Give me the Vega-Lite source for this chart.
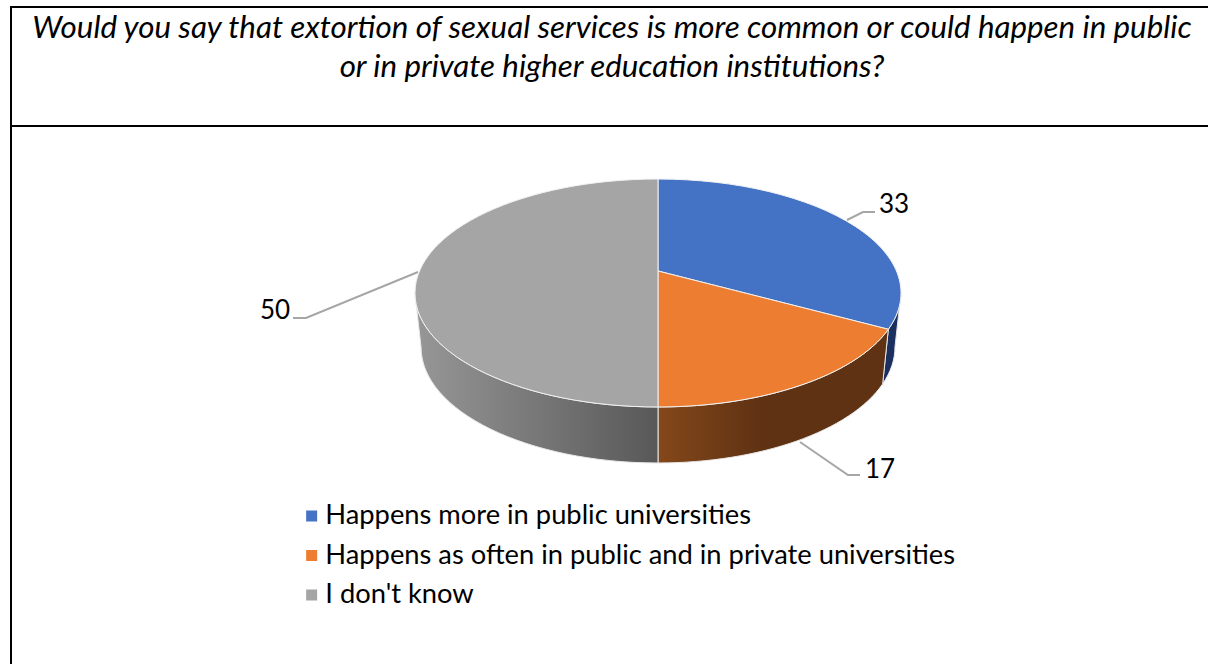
{
  "$schema": "https://vega.github.io/schema/vega-lite/v6.json",
  "width": 1208,
  "height": 664,
  "padding": 0,
  "autosize": {"type": "none"},
  "background": "white",
  "config": {"view": {"stroke": null}, "font": "Lato"},
  "title": {
    "text": [
      "Would you say that extortion of sexual services is more common or could happen in public",
      "or in private higher education institutions?"
    ],
    "font": "Lato",
    "fontStyle": "italic",
    "fontWeight": "normal",
    "fontSize": 31.3,
    "lineHeight": 39,
    "color": "#000000",
    "anchor": "middle",
    "frame": "group",
    "baseline": "alphabetic",
    "offset": -37,
    "dx": 8,
    "dy": 71
  },
  "data": {
    "values": [
      {"category": "Happens more in public universities", "value": 33},
      {"category": "Happens as often in public and in private universities", "value": 17},
      {"category": "I don't know", "value": 50}
    ]
  },
  "transform": [
    {"window": [{"op": "sum", "field": "value", "as": "cum"}], "frame": [null, 0]},
    {"joinaggregate": [{"op": "sum", "field": "value", "as": "total"}]},
    {"calculate": "2*PI*(datum.cum-datum.value)/datum.total", "as": "a0"},
    {"calculate": "2*PI*datum.cum/datum.total", "as": "a1"},
    {"calculate": "clamp(datum.a0,1.765,4.5182)", "as": "w0"},
    {"calculate": "clamp(datum.a1,1.765,4.5182)", "as": "w1"},
    {"calculate": "round(1e4*0.9811*sin(datum.a0)/(1+0.193*cos(datum.a0)))/1e4", "as": "tx0"},
    {"calculate": "round(-1e4*0.4516*cos(datum.a0)/(1+0.193*cos(datum.a0)))/1e4", "as": "ty0"},
    {"calculate": "round(1e4*0.9811*sin(datum.a1)/(1+0.193*cos(datum.a1)))/1e4", "as": "tx1"},
    {"calculate": "round(-1e4*0.4516*cos(datum.a1)/(1+0.193*cos(datum.a1)))/1e4", "as": "ty1"},
    {"calculate": "round(1e4*0.9811*sin(datum.w0)/(1+0.193*cos(datum.w0)))/1e4", "as": "wx0"},
    {"calculate": "round(-1e4*0.4516*cos(datum.w0)/(1+0.193*cos(datum.w0)))/1e4", "as": "wy0"},
    {"calculate": "round(1e4*0.9811*sin(datum.w1)/(1+0.193*cos(datum.w1)))/1e4", "as": "wx1"},
    {"calculate": "round(-1e4*0.4516*cos(datum.w1)/(1+0.193*cos(datum.w1)))/1e4", "as": "wy1"},
    {"calculate": "round(1e4*0.9753*datum.wx0)/1e4", "as": "bx0"},
    {"calculate": "round(1e4*0.9753*datum.wx1)/1e4", "as": "bx1"},
    {"calculate": "round(1e4*(0.3128+1.0175*(datum.wy0-0.0905)))/1e4", "as": "by0"},
    {"calculate": "round(1e4*(0.3128+1.0175*(datum.wy1-0.0905)))/1e4", "as": "by1"},
    {"calculate": "'M0,0L'+datum.tx0+','+datum.ty0+'A1,0.469,0,'+(datum.value>50?1:0)+',1,'+datum.tx1+','+datum.ty1+'Z'", "as": "topPath"},
    {"calculate": "'M'+datum.wx0+','+datum.wy0+'A1,0.469,0,0,1,'+datum.wx1+','+datum.wy1+'L'+datum.bx1+','+datum.by1+'A0.9753,0.4774,0,0,0,'+datum.bx0+','+datum.by0+'Z'", "as": "wallPath"}
  ],
  "encoding": {
    "x": {"datum": 658, "type": "quantitative", "scale": {"domain": [0, 1208]}, "axis": null},
    "y": {"datum": 271, "type": "quantitative", "scale": {"domain": [664, 0]}, "axis": null}
  },
  "layer": [
    {
      "transform": [{"filter": "datum.value === 33"}],
      "layer": [
        {
          "mark": {"type": "point", "shape": "M0.7778,-0.2099L0.8436,-0.2428L0.893,-0.2428", "size": 236196, "filled": false, "stroke": "#a6a6a6", "strokeWidth": 2, "opacity": 1}
        },
        {
          "mark": {"type": "text", "align": "left", "baseline": "alphabetic", "fontSize": 26, "color": "#000000"},
          "encoding": {"x": {"datum": 879, "type": "quantitative"}, "y": {"datum": 213, "type": "quantitative"}, "text": {"field": "value", "type": "quantitative"}}
        }
      ]
    },
    {
      "transform": [{"filter": "datum.value === 17"}],
      "layer": [
        {
          "mark": {"type": "point", "shape": "M0.5844,0.7037L0.7819,0.8395L0.8313,0.8395", "size": 236196, "filled": false, "stroke": "#a6a6a6", "strokeWidth": 2, "opacity": 1}
        },
        {
          "mark": {"type": "text", "align": "left", "baseline": "alphabetic", "fontSize": 26, "color": "#000000"},
          "encoding": {"x": {"datum": 865, "type": "quantitative"}, "y": {"datum": 478, "type": "quantitative"}, "text": {"field": "value", "type": "quantitative"}}
        }
      ]
    },
    {
      "transform": [{"filter": "datum.value === 50"}],
      "layer": [
        {
          "mark": {"type": "point", "shape": "M-0.9877,0.0041L-1.4486,0.1934L-1.5021,0.1934", "size": 236196, "filled": false, "stroke": "#a6a6a6", "strokeWidth": 2, "opacity": 1}
        },
        {
          "mark": {"type": "text", "align": "left", "baseline": "alphabetic", "fontSize": 26, "color": "#000000"},
          "encoding": {"x": {"datum": 260, "type": "quantitative"}, "y": {"datum": 319, "type": "quantitative"}, "text": {"field": "value", "type": "quantitative"}}
        }
      ]
    },
    {
      "transform": [{"filter": "datum.value === 33"}],
      "mark": {"type": "point", "size": 236196, "filled": true, "fill": "#1b305f", "stroke": "#e8e8e8", "strokeWidth": 1, "opacity": 1},
      "encoding": {"shape": {"field": "wallPath", "type": "nominal", "scale": null}}
    },
    {
      "transform": [{"filter": "datum.value === 17"}],
      "mark": {
        "type": "point", "size": 236196, "filled": true, "stroke": "#e8e8e8", "strokeWidth": 1, "opacity": 1,
        "fill": {"gradient": "linear", "x1": 0, "y1": 0, "x2": 1, "y2": 0, "stops": [{"offset": 0, "color": "#84471a"}, {"offset": 0.45, "color": "#5f3213"}, {"offset": 1, "color": "#5f3213"}]}
      },
      "encoding": {"shape": {"field": "wallPath", "type": "nominal", "scale": null}}
    },
    {
      "transform": [{"filter": "datum.value === 50"}],
      "mark": {
        "type": "point", "size": 236196, "filled": true, "stroke": "#e8e8e8", "strokeWidth": 1, "opacity": 1,
        "fill": {"gradient": "linear", "x1": 0, "y1": 0, "x2": 1, "y2": 0, "stops": [{"offset": 0, "color": "#979797"}, {"offset": 1, "color": "#585858"}]}
      },
      "encoding": {"shape": {"field": "wallPath", "type": "nominal", "scale": null}}
    },
    {
      "mark": {"type": "point", "size": 236196, "filled": true, "stroke": "#f2f2f2", "strokeWidth": 1, "opacity": 1},
      "encoding": {
        "shape": {"field": "topPath", "type": "nominal", "scale": null},
        "color": {
          "field": "category",
          "type": "nominal",
          "scale": {
            "domain": ["Happens more in public universities", "Happens as often in public and in private universities", "I don't know"],
            "range": ["#4472c4", "#ed7d31", "#a5a5a5"]
          },
          "legend": {
            "title": null,
            "orient": "none",
            "legendX": 298,
            "legendY": 501,
            "direction": "vertical",
            "symbolType": "square",
            "symbolSize": 121,
            "symbolStrokeWidth": 0,
            "labelFont": "Lato",
            "labelFontSize": 27.3,
            "labelColor": "#000000",
            "labelLimit": 800,
            "labelOffset": 0,
            "rowPadding": 9.5,
            "clipHeight": 30
          }
        }
      }
    },
    {
      "data": {"values": [{"part": "header"}]},
      "mark": {"type": "rule", "color": "#000000", "strokeWidth": 2},
      "encoding": {"x": {"datum": 11, "type": "quantitative"}, "x2": {"datum": 1208}, "y": {"datum": 7, "type": "quantitative"}}
    },
    {
      "data": {"values": [{"part": "divider"}]},
      "mark": {"type": "rule", "color": "#000000", "strokeWidth": 2},
      "encoding": {"x": {"datum": 11, "type": "quantitative"}, "x2": {"datum": 1208}, "y": {"datum": 126, "type": "quantitative"}}
    },
    {
      "data": {"values": [{"part": "edge"}]},
      "mark": {"type": "rule", "color": "#000000", "strokeWidth": 2},
      "encoding": {"x": {"datum": 11, "type": "quantitative"}, "y": {"datum": 6, "type": "quantitative"}, "y2": {"datum": 664}}
    }
  ]
}
